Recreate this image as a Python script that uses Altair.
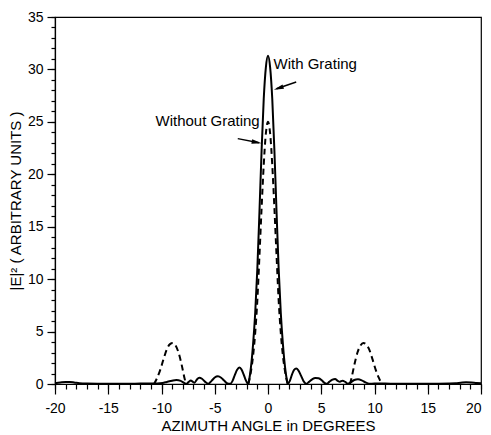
import altair as alt
import pandas as pd

# ---- data ----
with_x = [-20, -19.5, -19.0, -18.6, -18.2, -17.7, -17.0, -16.0, -15.0, -14.0,
          -13.0, -12.0, -11.0, -10.4, -9.9, -9.5, -9.0, -8.6, -8.2, -7.9,
          -7.65, -7.45, -7.25, -7.05, -6.9, -6.7, -6.45, -6.2, -5.9, -5.6,
          -5.3, -5.0, -4.7, -4.4, -4.1, -3.8, -3.55, -3.35, -3.1, -2.9,
          -2.7, -2.5, -2.3, -2.1, -1.86, -1.75, -1.6, -1.4, -1.2, -1.0,
          -0.8, -0.6, -0.4, -0.2, 0,
          0.2, 0.4, 0.6, 0.8, 1.0, 1.2, 1.4, 1.6, 1.75, 1.86,
          2.05, 2.25, 2.45, 2.65, 2.85, 3.1, 3.35, 3.6, 3.85, 4.15,
          4.45, 4.75, 5.05, 5.3, 5.5, 5.75, 6.05, 6.3, 6.55, 6.75,
          7.0, 7.25, 7.5, 7.75, 8.1, 8.45, 8.8, 9.15, 9.5, 10.0,
          11, 12, 13, 14, 15, 16, 17, 17.6, 18.1, 18.6,
          19.1, 19.6, 20]
with_y = [0.08, 0.15, 0.2, 0.2, 0.15, 0.07, 0.04, 0.03, 0.03, 0.03,
          0.03, 0.04, 0.04, 0.05, 0.1, 0.2, 0.32, 0.38, 0.3, 0.12,
          0.02, 0.2, 0.33, 0.2, 0.12, 0.4, 0.6, 0.5, 0.2, 0.02,
          0.3, 0.62, 0.73, 0.6, 0.3, 0.05, 0.02, 0.25, 0.9, 1.35,
          1.58, 1.4, 0.95, 0.4, 0.0, 0.5, 1.6, 3.8, 6.8, 11.0,
          16.5, 22.3, 27.2, 30.2, 31.3,
          30.2, 27.2, 22.3, 16.5, 11.0, 6.8, 3.8, 1.6, 0.5, 0.0,
          0.3, 0.9, 1.35, 1.47, 1.3, 0.8, 0.25, 0.02, 0.2, 0.45,
          0.58, 0.55, 0.35, 0.1, 0.02, 0.2, 0.42, 0.48, 0.3, 0.22,
          0.32, 0.2, 0.03, 0.15, 0.38, 0.45, 0.35, 0.15, 0.03, 0.04,
          0.04, 0.03, 0.03, 0.03, 0.03, 0.03, 0.04, 0.06, 0.12, 0.17,
          0.15, 0.1, 0.08]

wo_main_x = [-1.86, -1.75, -1.6, -1.4, -1.2, -1.0, -0.8, -0.6, -0.4, -0.2, 0,
             0.2, 0.4, 0.6, 0.8, 1.0, 1.2, 1.4, 1.6, 1.75, 1.86]
wo_main_y = [0, 0.4, 1.2, 2.7, 4.9, 8.0, 12.3, 16.8, 20.9, 23.9, 25.0,
             23.9, 20.9, 16.8, 12.3, 8.0, 4.9, 2.7, 1.2, 0.4, 0]
wo_left_x = [-10.7, -10.4, -10.1, -9.8, -9.5, -9.2, -8.95, -8.7, -8.4, -8.1, -7.85, -7.7]
wo_left_y = [0, 0.6, 1.4, 2.4, 3.3, 3.8, 3.9, 3.7, 3.0, 1.8, 0.6, 0]
wo_right_x = [7.7, 7.85, 8.1, 8.4, 8.7, 8.95, 9.2, 9.5, 9.8, 10.1, 10.4, 10.7]
wo_right_y = [0, 0.6, 1.8, 3.0, 3.7, 3.9, 3.8, 3.3, 2.4, 1.4, 0.6, 0]

x_major = list(range(-20, 21, 5))
x_minor = list(range(-20, 21))
y_major = list(range(0, 36, 5))
y_minor = list(range(0, 36))

labels_text = ["With Grating", "Without Grating"]
labels_x = [0.52, -0.78]
labels_y = [30.5, 25.1]
labels_align = ["left", "right"]

arrow_x1 = [2.65, -2.84]
arrow_y1 = [28.8, 23.4]
arrow_x2 = [0.8, -0.85]
arrow_y2 = [28.15, 23.0]
head_x = [0.99, -1.06]
head_y = [28.21, 23.04]
head_angle = [250.5, 101.1]

FONT = "Liberation Sans"

# ---- tables ----
solid = pd.DataFrame({"x": with_x, "y": with_y})
dashed = pd.concat([
    pd.DataFrame({"x": wo_left_x, "y": wo_left_y, "seg": "left"}),
    pd.DataFrame({"x": wo_main_x, "y": wo_main_y, "seg": "main"}),
    pd.DataFrame({"x": wo_right_x, "y": wo_right_y, "seg": "right"}),
], ignore_index=True)
lab_df = pd.DataFrame({"t": labels_text, "x": labels_x, "y": labels_y, "a": labels_align})
arr_df = pd.DataFrame({"x": arrow_x1, "y": arrow_y1, "x2": arrow_x2, "y2": arrow_y2})
head_df = pd.DataFrame({"x": head_x, "y": head_y, "ang": head_angle})

xscale = alt.Scale(domain=[-20, 20], nice=False, zero=False)
yscale = alt.Scale(domain=[0, 35], nice=False, zero=False)

x_major_axis = alt.Axis(
    values=x_major, orient="bottom", tickSize=10,
    labelExpr="'' + datum.value",
    labelAlign={"condition": {"test": "datum.value === 20", "value": "right"}, "value": "center"},
    title="AZIMUTH ANGLE in DEGREES",
    grid=False, labelOverlap=False, labelFlush=False,
    labelPadding=7, titlePadding=3,
)
x_minor_axis = alt.Axis(
    values=x_minor, orient="bottom", tickSize=5, labels=False, domain=False,
    title=None, grid=False,
)
y_major_axis = alt.Axis(
    values=y_major, orient="left", tickSize=8,
    labelExpr="'' + datum.value",
    title="|E|² ( ARBITRARY UNITS )",
    grid=False, labelOverlap=False, labelFlush=False,
    labelPadding=4, titlePadding=4,
)
y_minor_axis = alt.Axis(
    values=y_minor, orient="left", tickSize=4, labels=False, domain=False,
    title=None, grid=False,
)

X_no = alt.X("x:Q", scale=xscale, axis=None)
Y_no = alt.Y("y:Q", scale=yscale, axis=None)

dash_layer = alt.Chart(dashed).mark_line(
    color="black", strokeWidth=2, strokeDash=[6, 4], interpolate="monotone"
).encode(
    x=alt.X("x:Q", scale=xscale, axis=x_major_axis),
    y=alt.Y("y:Q", scale=yscale, axis=y_major_axis),
    detail="seg:N",
)

solid_layer = alt.Chart(solid).mark_line(
    color="black", strokeWidth=2, interpolate="monotone"
).encode(
    x=alt.X("x:Q", scale=xscale, axis=x_minor_axis),
    y=alt.Y("y:Q", scale=yscale, axis=y_minor_axis),
)

text_left = alt.Chart(lab_df[lab_df.a == "left"]).mark_text(
    align="left", baseline="middle", fontSize=15, font=FONT, color="black"
).encode(x=X_no, y=Y_no, text="t:N")
text_right = alt.Chart(lab_df[lab_df.a == "right"]).mark_text(
    align="right", baseline="middle", fontSize=15, font=FONT, color="black"
).encode(x=X_no, y=Y_no, text="t:N")

arrows = alt.Chart(arr_df).mark_rule(color="black", strokeWidth=1.5).encode(
    x=X_no, y=Y_no, x2="x2:Q", y2="y2:Q"
)
heads = alt.Chart(head_df).mark_point(
    shape="M0,-1L0.45,1L-0.45,1Z", filled=True, color="black", opacity=1, size=100
).encode(x=X_no, y=Y_no, angle=alt.Angle("ang:Q", scale=None))

chart = alt.layer(dash_layer, solid_layer, arrows, heads, text_left, text_right).resolve_axis(
    x="independent", y="independent"
).properties(
    width=426, height=367,
    padding={"left": 47, "top": 9, "right": 2, "bottom": 52},
    autosize=alt.AutoSizeParams(type="none"),
    background="white",
).configure_view(
    stroke="black", strokeWidth=1.2
).configure_axis(
    domainColor="black", domainWidth=1.2, tickColor="black", tickWidth=1.2,
    labelColor="black", titleColor="black",
    labelFont=FONT, titleFont=FONT, labelFontSize=14, titleFontSize=15,
    titleFontWeight="normal",
)

chart.save("out.html", embed_options={"renderer": "svg", "actions": False})
